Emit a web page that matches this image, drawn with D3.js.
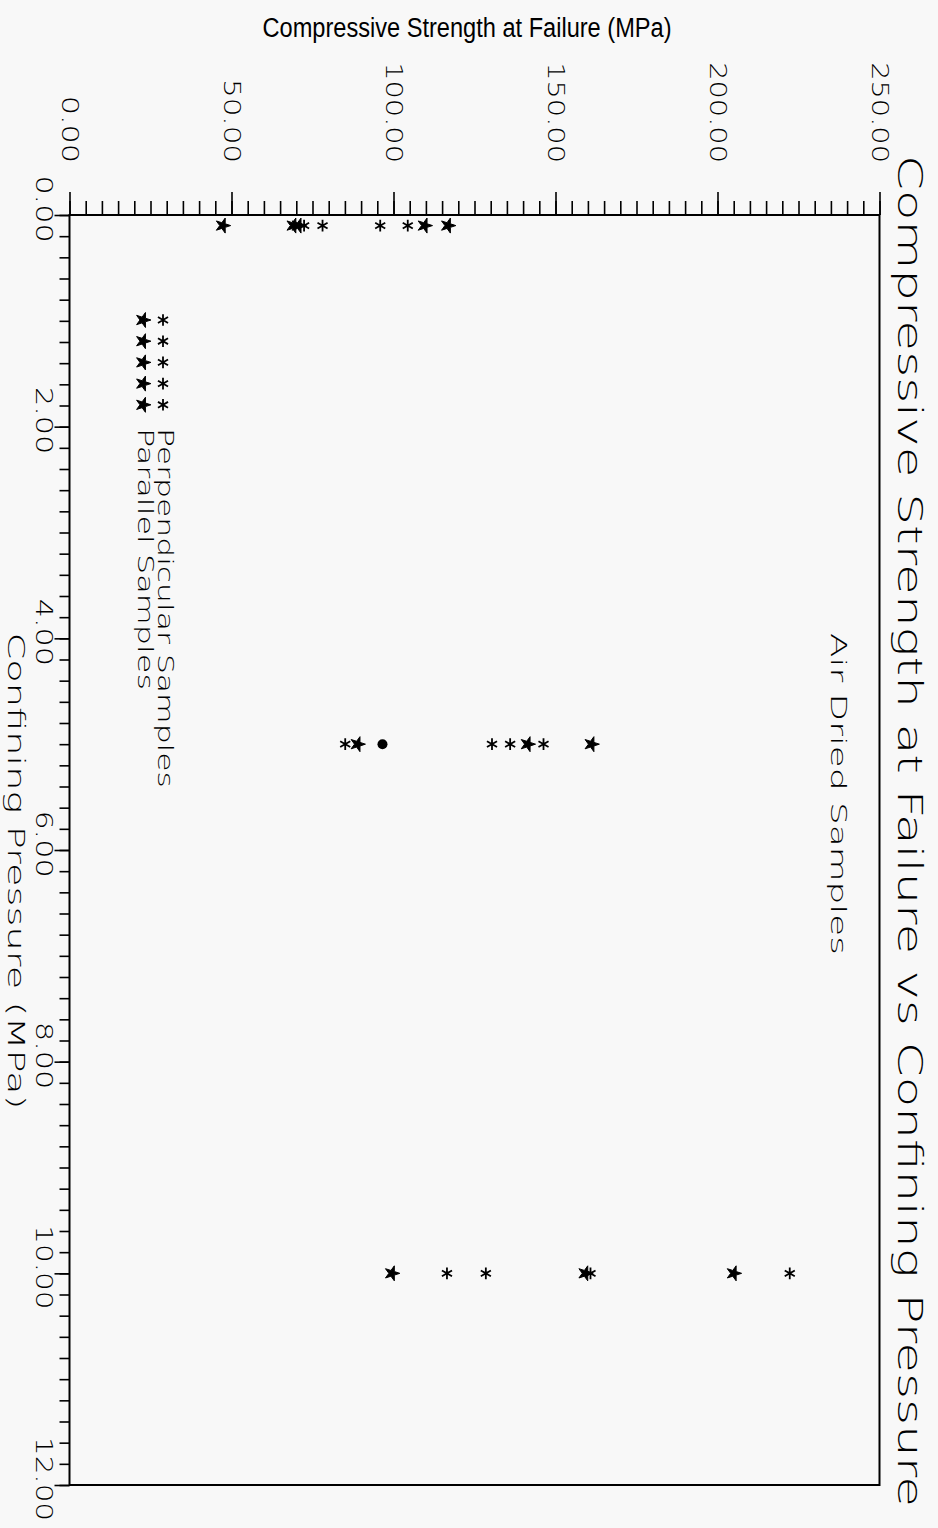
<!DOCTYPE html>
<html>
<head>
<meta charset="utf-8">
<script src="https://cdn.jsdelivr.net/npm/d3@7"></script>
<style>
  body { margin: 0; background: #f8f8f8; }
  svg { display: block; }
</style>
</head>
<body>
<div id="chart"></div>
<script>
// chart data
const strengthTicks = [0, 50, 100, 150, 200, 250];
const pressureTicks = [0, 2, 4, 6, 8, 10, 12];

// Perpendicular samples (thin asterisk)
const perpPressure = [0.1, 0.1, 0.1, 0.1, 5, 5, 5, 5, 10, 10, 10, 10];
const perpStrength = [72.4, 78.1, 95.9, 104.4, 85.1, 130.4, 136.0, 146.3, 116.5, 128.5, 160.8, 222.3];

// Parallel samples (bold star)
const paraPressure = [0.1, 0.1, 0.1, 0.1, 0.1, 5, 5, 5, 10, 10, 10];
const paraStrength = [47.3, 69.1, 70.7, 109.6, 116.8, 88.9, 141.4, 161.1, 99.5, 159.2, 205.0];

// coincident points, printed as a solid dot
const dotPressure = [5];
const dotStrength = [96.6];

const width = 938;
const height = 1528;
const font = "'DejaVu Sans', 'Noto Sans', sans-serif";
const weight = 200;

const svg = d3.select("#chart")
    .append("svg")
    .attr("width", width)
    .attr("height", height)
    .style("background", "#f8f8f8");

// horizontal = strength, vertical = pressure (page is rotated)
const x = d3.scaleLinear().domain([0, 250]).range([69.5, 879.5]);
const y = d3.scaleLinear().domain([0, 12]).range([215, 1485]);

// frame
svg.append("rect")
    .attr("x", x(0))
    .attr("y", y(0))
    .attr("width", x(250) - x(0))
    .attr("height", y(12) - y(0))
    .attr("fill", "none")
    .attr("stroke", "#000")
    .attr("stroke-width", 2);

function styleAxis(g) {
    g.select(".domain").remove();
    g.selectAll(".tick line").attr("stroke", "#000").attr("stroke-width", 1.6);
    g.selectAll(".tick text").remove();
}

// top axis ticks
svg.append("g")
    .attr("transform", `translate(0,${y(0)})`)
    .call(d3.axisTop(x).tickValues(d3.range(0, 250.1, 5)).tickSize(14).tickFormat(""))
    .call(styleAxis);
svg.append("g")
    .attr("transform", `translate(0,${y(0)})`)
    .call(d3.axisTop(x).tickValues(strengthTicks).tickSize(23).tickFormat(""))
    .call(styleAxis);

// left axis ticks
svg.append("g")
    .attr("transform", `translate(${x(0)},0)`)
    .call(d3.axisLeft(y).tickValues(d3.range(0, 12.01, 0.2)).tickSize(10).tickFormat(""))
    .call(styleAxis);
svg.append("g")
    .attr("transform", `translate(${x(0)},0)`)
    .call(d3.axisLeft(y).tickValues(pressureTicks).tickSize(15).tickFormat(""))
    .call(styleAxis);

const fmt = d3.format(".2f");
const charW = 16.8;

// top tick labels, rotated
svg.append("g").selectAll("text")
    .data(strengthTicks)
    .enter()
    .append("text")
    .attr("transform", d => `translate(${x(d)},163) rotate(90)`)
    .attr("text-anchor", "end")
    .attr("dominant-baseline", "central")
    .attr("font-family", font)
    .attr("font-weight", weight)
    .attr("font-size", 23)
    .attr("textLength", d => fmt(d).length * charW)
    .attr("lengthAdjust", "spacingAndGlyphs")
    .text(d => fmt(d));

// left tick labels, rotated
svg.append("g").selectAll("text")
    .data(pressureTicks)
    .enter()
    .append("text")
    .attr("transform", d => `translate(44,${y(d) - 6}) rotate(90)`)
    .attr("text-anchor", "middle")
    .attr("dominant-baseline", "central")
    .attr("font-family", font)
    .attr("font-weight", weight)
    .attr("font-size", 23)
    .attr("textLength", d => fmt(d).length * charW)
    .attr("lengthAdjust", "spacingAndGlyphs")
    .text(d => fmt(d));

function rotText(tx, ty, str, size, len, anchor) {
    svg.append("text")
        .attr("transform", `translate(${tx},${ty}) rotate(90)`)
        .attr("text-anchor", anchor || "middle")
        .attr("dominant-baseline", "central")
        .attr("font-family", font)
        .attr("font-weight", weight)
        .attr("font-size", size)
        .attr("textLength", len)
        .attr("lengthAdjust", "spacingAndGlyphs")
        .text(str);
}

// titles
rotText(910, 831, "Compressive Strength at Failure vs Confining Pressure", 34, 1352);
rotText(16, 871, "Confining Pressure (MPa)", 23, 477);
rotText(838, 794, "Air Dried Samples", 22, 322);

svg.append("text")
    .attr("x", 467)
    .attr("y", 37)
    .attr("text-anchor", "middle")
    .attr("font-family", "'Liberation Sans Narrow', 'Arial Narrow', sans-serif")
    .attr("font-size", 27)
    .attr("textLength", 409)
    .attr("lengthAdjust", "spacingAndGlyphs")
    .text("Compressive Strength at Failure (MPa)");

// symbols
const thin = d3.symbol().type(d3.symbolAsterisk).size(95);
const bold = d3.symbol().type(d3.symbolStar).size(70);

function drawThin(g, pts) {
    g.selectAll("path.thin")
        .data(pts)
        .enter()
        .append("path")
        .attr("class", "thin")
        .attr("d", thin)
        .attr("transform", d => `translate(${d[0]},${d[1]})`)
        .attr("fill", "none")
        .attr("stroke", "#000")
        .attr("stroke-width", 1.8);
}

function drawBold(g, pts) {
    g.selectAll("path.bold")
        .data(pts)
        .enter()
        .append("path")
        .attr("class", "bold")
        .attr("d", bold)
        .attr("transform", d => `translate(${d[0]},${d[1]}) rotate(90)`)
        .attr("fill", "#000")
        .attr("stroke", "#000")
        .attr("stroke-width", 1);
}

const points = svg.append("g");
drawThin(points, perpStrength.map((s, i) => [x(s), y(perpPressure[i])]));
drawBold(points, paraStrength.map((s, i) => [x(s), y(paraPressure[i])]));
points.selectAll("circle")
    .data(dotStrength)
    .enter()
    .append("circle")
    .attr("cx", d => x(d))
    .attr("cy", (d, i) => y(dotPressure[i]))
    .attr("r", 5)
    .attr("fill", "#000");

// legend
const legendRows = d3.range(5).map(i => 320 + i * 21.2);
const legend = svg.append("g");
drawThin(legend, legendRows.map(v => [163, v]));
drawBold(legend, legendRows.map(v => [143, v]));
rotText(165, 428, "Perpendicular Samples", 22, 360, "start");
rotText(145, 428, "Parallel Samples", 22, 262, "start");
</script>
</body>
</html>
